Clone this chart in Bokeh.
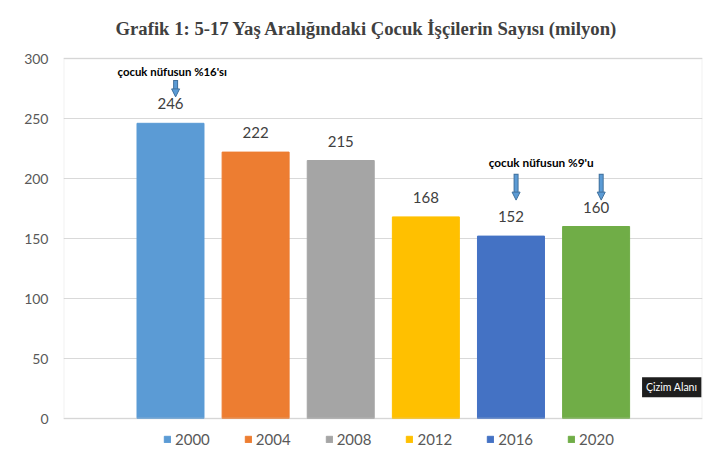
from bokeh.plotting import figure
from bokeh.models import (ColumnDataSource, Range1d, FixedTicker, LabelSet, Legend,
                          LegendItem, Arrow, NormalHead, Label, BoxAnnotation)
from bokeh.core.properties import value
from bokeh.embed import file_html
from bokeh.resources import INLINE

# ---- data ----
years = ["2000", "2004", "2008", "2012", "2016", "2020"]
counts = [246, 222, 215, 168, 152, 160]
colors = ["#5b9bd5", "#ed7d31", "#a5a5a5", "#ffc000", "#4472c4", "#70ad47"]
y_ticks = [0, 50, 100, 150, 200, 250, 300]
title_text = "Grafik 1: 5-17 Yaş Aralığındaki Çocuk İşçilerin Sayısı (milyon)"

note_16_text = "çocuk nüfusun %16'sı"
note_16_years = ["2000"]
note_16_text_y = 289
note_16_arrow = (282, 268)

note_9_text = "çocuk nüfusun %9'u"
note_9_years = ["2016", "2020"]
note_9_text_y = 213.5
note_9_arrow = (204, 182)

tooltip_text = "Çizim Alanı"

# ---- figure ----
xs = list(range(len(years)))
src = ColumnDataSource(dict(x=xs, year=years, count=counts, color=colors,
                            label=[str(c) for c in counts]))

# the frame is extended below 0 (legend) and slightly above 300 (title room)
p = figure(frame_width=639, frame_height=426, output_backend="svg", toolbar_location=None,
           x_range=Range1d(-1.257, 6.25), y_range=Range1d(-40, 315),
           x_axis_location=None,
           min_border_left=63, min_border_right=17, min_border_top=40,
           min_border_bottom=0, title=title_text)
p.background_fill_color = "white"
p.border_fill_color = "white"
p.outline_line_color = None

p.title.align = "left"
p.title.vertical_align = "bottom"
p.title.text_font = "Liberation Serif"
p.title.text_font_size = "18.7px"
p.title.text_font_style = "bold"
p.title.text_color = "#404040"
p.title.standoff = 4
p.title.offset = 52

p.xgrid.visible = False
p.ygrid.grid_line_color = "#d9d9d9"
p.yaxis.ticker = FixedTicker(ticks=y_ticks)
p.yaxis.axis_line_color = None
p.yaxis.major_tick_line_color = None
p.yaxis.minor_tick_line_color = None
p.yaxis.major_label_standoff = 9
p.yaxis.major_label_text_font = "Lato"
p.yaxis.major_label_text_font_size = "14px"
p.yaxis.major_label_text_color = "#595959"

# plot-area border
p.add_layout(BoxAnnotation(left=p.x_range.start, right=p.x_range.end,
                           bottom=y_ticks[0], top=y_ticks[-1], fill_alpha=0,
                           line_color="#cfcfcf", line_width=2))

r = p.vbar(x="x", top="count", width=0.787, bottom=0, color="color", source=src)

labels = LabelSet(x="x", y="count", text="label", source=src, y_offset=19.5,
                  text_align="center", text_baseline="middle",
                  text_font=value("Lato"), text_font_size="15px", text_color="#404040")
p.add_layout(labels)

# ---- notes with arrows ----
def draw_arrows(note_years, arrow):
    for yr in note_years:
        i = years.index(yr)
        ax = i + 0.06
        head_len = 7 / 1.2
        p.segment(x0=[ax], y0=[arrow[0]], x1=[ax], y1=[arrow[1] + head_len],
                  line_color="#41719c", line_width=5)
        p.segment(x0=[ax], y0=[arrow[0] - 0.8], x1=[ax], y1=[arrow[1] + head_len],
                  line_color="#5b9bd5", line_width=3)
        p.add_layout(Arrow(end=NormalHead(size=8, fill_color="#5b9bd5",
                                          line_color="#41719c", line_width=1),
                           x_start=ax, y_start=arrow[1] + head_len + 0.5,
                           x_end=ax, y_end=arrow[1], line_alpha=0))

draw_arrows(note_16_years, note_16_arrow)
draw_arrows(note_9_years, note_9_arrow)

idx16 = [years.index(y) for y in note_16_years]
idx9 = [years.index(y) for y in note_9_years]
p.add_layout(Label(x=sum(idx16) / len(idx16) + 0.02, y=note_16_text_y, text=note_16_text,
                   text_align="center", text_baseline="middle", text_font="Lato",
                   text_font_style="bold", text_font_size="11.4px", text_color="black"))
p.add_layout(Label(x=sum(idx9) / len(idx9) - 0.145, y=note_9_text_y, text=note_9_text,
                   text_align="center", text_baseline="middle", text_font="Lato",
                   text_font_style="bold", text_font_size="11.8px", text_color="black"))

# tooltip artefact
p.add_layout(Label(x=5.54, y=26, text=tooltip_text, text_align="left",
                   text_baseline="middle", text_font="Lato", text_font_size="10.5px",
                   text_color="white", background_fill_color="#1e1e1e",
                   padding=4))

# ---- legend (inside the extended frame, below the zero line) ----
items = [LegendItem(label=y, renderers=[r], index=i) for i, y in enumerate(years)]
legend = Legend(items=items, orientation="horizontal", location=(100, 18),
                glyph_width=8, glyph_height=8, label_standoff=4, spacing=34,
                label_text_font="Lato", label_text_font_size="15px",
                label_text_color="#595959", border_line_color=None,
                background_fill_alpha=0, margin=0, padding=0)
p.add_layout(legend)

open("out.html", "w").write(file_html(p, INLINE))
